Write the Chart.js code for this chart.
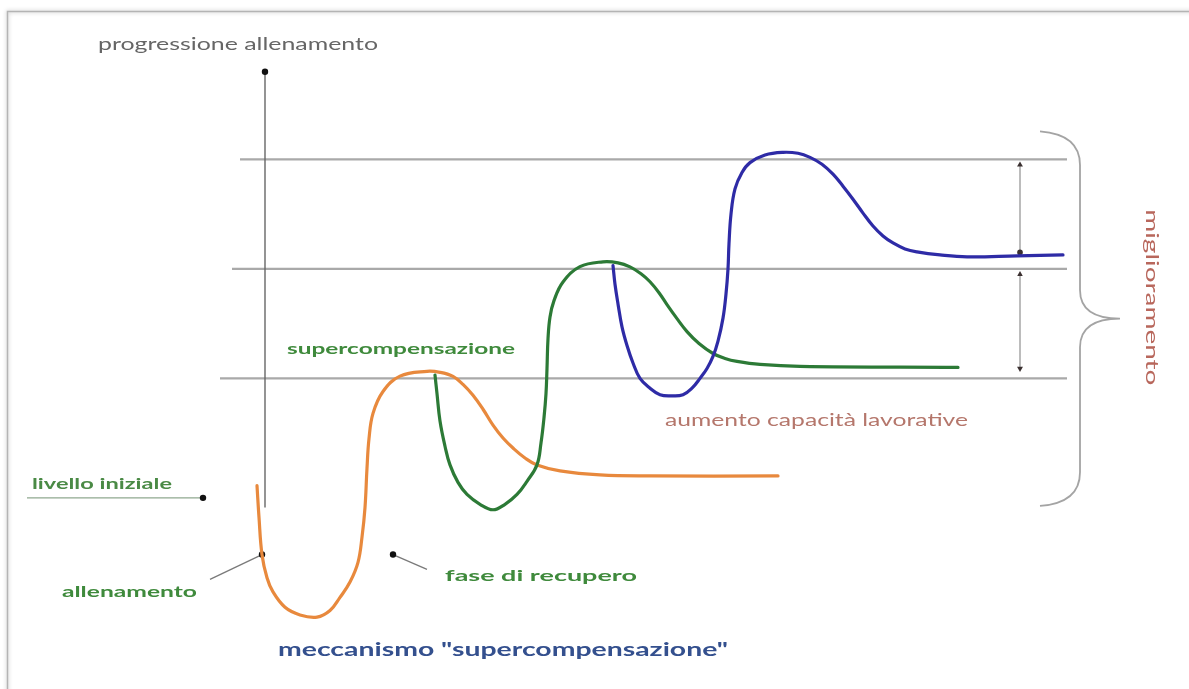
<!DOCTYPE html>
<html><head><meta charset="utf-8">
<script src="https://cdn.jsdelivr.net/npm/chart.js@4.4.1/dist/chart.umd.min.js"></script>
<style>html,body{margin:0;padding:0;background:#fff;}canvas{display:block;}</style>
</head><body>
<canvas id="c" width="1189" height="689"></canvas>
<script>
// ---- data (x = tempo, y = livello; 0 = livello iniziale, 1/2/3 = livelli raggiunti) ----
const orangeX = [-0.8,-0.6,-0.3,0.2,0.8,2.0,3.5,5.2,6.5,7.5,8.5,9.3,9.7,10.0,10.2,10.4,10.8,11.8,13.5,16.2,17.5,18.8,19.8,20.8,21.8,22.8,23.8,24.8,26.0,27.2,29.5,33.5,38.5,51.3];
const orangeY = [0.02,-0.27,-0.61,-0.82,-0.95,-1.09,-1.16,-1.18,-1.12,-1.0,-0.86,-0.68,-0.45,-0.18,0.18,0.45,0.68,0.88,1.02,1.064,1.055,1.018,0.945,0.845,0.718,0.573,0.455,0.364,0.273,0.209,0.155,0.118,0.109,0.109];

const greenX = [17.0,17.2,17.5,18.0,18.5,19.3,20.2,21.5,22.8,24.0,25.2,26.2,27.2,27.6,27.9,28.1,28.2,28.3,28.5,28.9,29.8,31.5,33.8,35.3,36.5,37.6,38.5,39.4,40.2,41.2,42.2,43.4,44.8,46.0,47.2,49.5,53.5,69.3];
const greenY = [1.03,0.86,0.61,0.38,0.21,0.05,-0.06,-0.15,-0.2,-0.15,-0.06,0.06,0.21,0.41,0.64,0.86,1.09,1.36,1.56,1.71,1.88,2.02,2.064,2.055,2.018,1.955,1.882,1.782,1.673,1.545,1.427,1.318,1.227,1.182,1.155,1.127,1.109,1.10];

const blueX = [34.8,35.0,35.3,35.7,36.2,36.8,37.5,38.5,39.5,40.7,41.8,42.7,43.5,44.2,44.8,45.3,45.8,46.1,46.3,46.4,46.6,47.0,47.7,48.5,50.0,51.8,53.3,54.5,55.7,56.8,57.8,58.8,59.8,60.8,61.8,62.8,64.0,65.2,67.5,70.2,75.2,79.8];
const blueY = [2.03,1.86,1.68,1.47,1.30,1.14,1.0,0.91,0.85,0.84,0.85,0.91,1.0,1.09,1.2,1.34,1.55,1.77,2.0,2.23,2.5,2.73,2.88,2.97,3.04,3.064,3.055,3.018,2.955,2.864,2.755,2.636,2.509,2.391,2.300,2.236,2.182,2.155,2.127,2.109,2.118,2.127];

const levelValues = [1, 2, 3];
const levelStartX = [-4.5, -3.3, -2.5];
const levelEndX = 80.2;

const axisY = [-0.18, 3.8];
const arrowX = 75.5;
const arrowUpperY = [2.95, 2.15];
const arrowLowerY = [1.95, 1.09];

// ---- helpers ----
const pts = (xs, ys) => xs.map((x, i) => ({x: x, y: ys[i]}));

const curve = (label, xs, ys, color, order) => ({
  label, data: pts(xs, ys), borderColor: color, borderWidth: 3.2,
  pointRadius: 0, tension: 0.4, order, clip: false,
  borderCapStyle: 'round', borderJoinStyle: 'round'
});

const datasets = [
  curve('terzo stimolo', blueX, blueY, '#2e2ba6', 1),
  curve('secondo stimolo', greenX, greenY, '#2c7a36', 2),
  curve('primo stimolo', orangeX, orangeY, '#e8893d', 3),
  { label: 'asse', data: [{x:0,y:axisY[0]},{x:0,y:axisY[1]}], borderColor:'#666', borderWidth:1.4,
    pointRadius:[0,3.2], pointBackgroundColor:'#111', pointBorderWidth:0, order:5, clip:false },
];
levelValues.forEach((v, i) => datasets.push({
  label: 'livello ' + v, data: [{x: levelStartX[i], y: v}, {x: levelEndX, y: v}],
  borderColor: '#a9a9a9', borderWidth: 2.2, pointRadius: 0, order: 6, clip: false
}));
datasets.push({ label:'freccia 1', data: pts([arrowX, arrowX], arrowUpperY), borderColor:'#a0a0a0', borderWidth:1.4,
  pointStyle:['triangle','circle'], pointRadius:[3.4,2.8], pointRotation:[0,0], pointBackgroundColor:'#3a3030', pointBorderWidth:0, order:4, clip:false });
datasets.push({ label:'freccia 2', data: pts([arrowX, arrowX], arrowLowerY), borderColor:'#a0a0a0', borderWidth:1.4,
  pointStyle:['triangle','triangle'], pointRadius:[3.2,3.4], pointRotation:[0,180], pointBackgroundColor:'#3a3030', pointBorderWidth:0, order:4, clip:false });

// pointer lines for labels
const pointers = [
  { from: [-23.8, -0.091], to: [-6.2, -0.091], color: '#8fa88f' },
  { from: [-5.5, -0.836], to: [-0.3, -0.609], color: '#7a7a7a' },
  { from: [16.2, -0.745], to: [12.8, -0.609], color: '#7a7a7a' }
];
pointers.forEach((p, i) => datasets.push({
  label: 'indicatore ' + i, data: [{x:p.from[0], y:p.from[1]}, {x:p.to[0], y:p.to[1]}],
  borderColor: p.color, borderWidth: 1.3, pointRadius: [0, 3.2], pointBackgroundColor: '#111',
  pointBorderWidth: 0, order: 4, clip: false
}));

// text labels (positions in chart units)
const labels = [
  { text: 'progressione allenamento', x1: -16.7, x2: 11.3, y: 4.045, size: 17, weight: '400', color: '#666666' },
  { text: 'supercompensazione', x1: 2.2, x2: 25.0, y: 1.273, size: 16, weight: '700', color: '#3f8a3c' },
  { text: 'livello iniziale', x1: -23.3, x2: -9.3, y: 0.036, size: 15, weight: '700', color: '#4a8a45' },
  { text: 'allenamento', x1: -20.3, x2: -6.8, y: -0.955, size: 15, weight: '700', color: '#3f8a3c' },
  { text: 'fase di recupero', x1: 18.0, x2: 37.2, y: -0.8, size: 16, weight: '700', color: '#3f8a3c' },
  { text: 'meccanismo "supercompensazione"', x1: 1.3, x2: 46.3, y: -1.482, size: 18, weight: '700', color: '#34508e' },
  { text: 'aumento capacità lavorative', x1: 40.0, x2: 70.3, y: 0.618, size: 17, weight: '400', color: '#b5776c' },
  { text: 'miglioramento', x: 88.7, y1: 2.545, y2: 0.936, size: 18, weight: '400', color: '#b8675c', vertical: true }
];

// brace (chart units)
const brace = { xTip: 77.5, xMid: 81.5, xPoint: 85.5, yTop: 3.255, yBottom: -0.164, yPoint: 1.545 };

const decorPlugin = {
  id: 'decor',
  beforeDraw(chart) {
    const ctx = chart.ctx;
    ctx.save();
    ctx.fillStyle = '#fff';
    ctx.fillRect(0, 0, chart.width, chart.height);
    ctx.shadowColor = 'rgba(0,0,0,0.28)';
    ctx.shadowBlur = 4;
    ctx.strokeStyle = '#b4b4b4';
    ctx.lineWidth = 1.5;
    ctx.beginPath();
    ctx.moveTo(7.5, chart.height + 5);
    ctx.lineTo(7.5, 11.5);
    ctx.lineTo(chart.width + 5, 11.5);
    ctx.stroke();
    ctx.restore();
  },
  afterDatasetsDraw(chart) {
    const ctx = chart.ctx, xs = chart.scales.x, ys = chart.scales.y;
    const X = v => xs.getPixelForValue(v), Y = v => ys.getPixelForValue(v);
    // brace
    ctx.save();
    ctx.strokeStyle = '#a4a4a4';
    ctx.lineWidth = 1.8;
    const b = brace;
    const r = (Y(b.yBottom) - Y(b.yTop)) * 0.09;
    ctx.beginPath();
    ctx.moveTo(X(b.xTip), Y(b.yTop));
    ctx.quadraticCurveTo(X(b.xMid), Y(b.yTop) + 3, X(b.xMid), Y(b.yTop) + r);
    ctx.lineTo(X(b.xMid), Y(b.yPoint) - r * 0.85);
    ctx.quadraticCurveTo(X(b.xMid), Y(b.yPoint), X(b.xPoint), Y(b.yPoint));
    ctx.quadraticCurveTo(X(b.xMid), Y(b.yPoint), X(b.xMid), Y(b.yPoint) + r * 0.85);
    ctx.lineTo(X(b.xMid), Y(b.yBottom) - r);
    ctx.quadraticCurveTo(X(b.xMid), Y(b.yBottom) - 3, X(b.xTip), Y(b.yBottom));
    ctx.stroke();
    ctx.restore();
    // texts
    labels.forEach(l => {
      ctx.save();
      ctx.font = l.weight + ' ' + l.size + 'px Lato, "Open Sans", sans-serif';
      ctx.fillStyle = l.color;
      ctx.textBaseline = 'middle';
      const w = ctx.measureText(l.text).width;
      if (l.vertical) {
        const cy = (Y(l.y1) + Y(l.y2)) / 2, len = Y(l.y2) - Y(l.y1);
        ctx.translate(X(l.x), cy);
        ctx.rotate(Math.PI / 2);
        ctx.scale(len / w, 1);
        ctx.textAlign = 'center';
        ctx.fillText(l.text, 0, 0);
      } else {
        const x1 = X(l.x1), x2 = X(l.x2);
        ctx.translate(x1, Y(l.y));
        ctx.scale((x2 - x1) / w, 1);
        ctx.textAlign = 'left';
        ctx.fillText(l.text, 0, 0);
      }
      ctx.restore();
    });
  }
};

new Chart(document.getElementById('c'), {
  type: 'line',
  data: { datasets },
  options: {
    responsive: false,
    animation: false,
    devicePixelRatio: 1,
    layout: { padding: { left: 5, right: 4, top: 6, bottom: 1 } },
    plugins: { legend: { display: false }, tooltip: { enabled: false } },
    scales: {
      x: { type: 'linear', min: -26, max: 92, display: false },
      y: { type: 'linear', min: -1.8, max: 4.4, display: false }
    }
  },
  plugins: [decorPlugin]
});
</script>
</body></html>
